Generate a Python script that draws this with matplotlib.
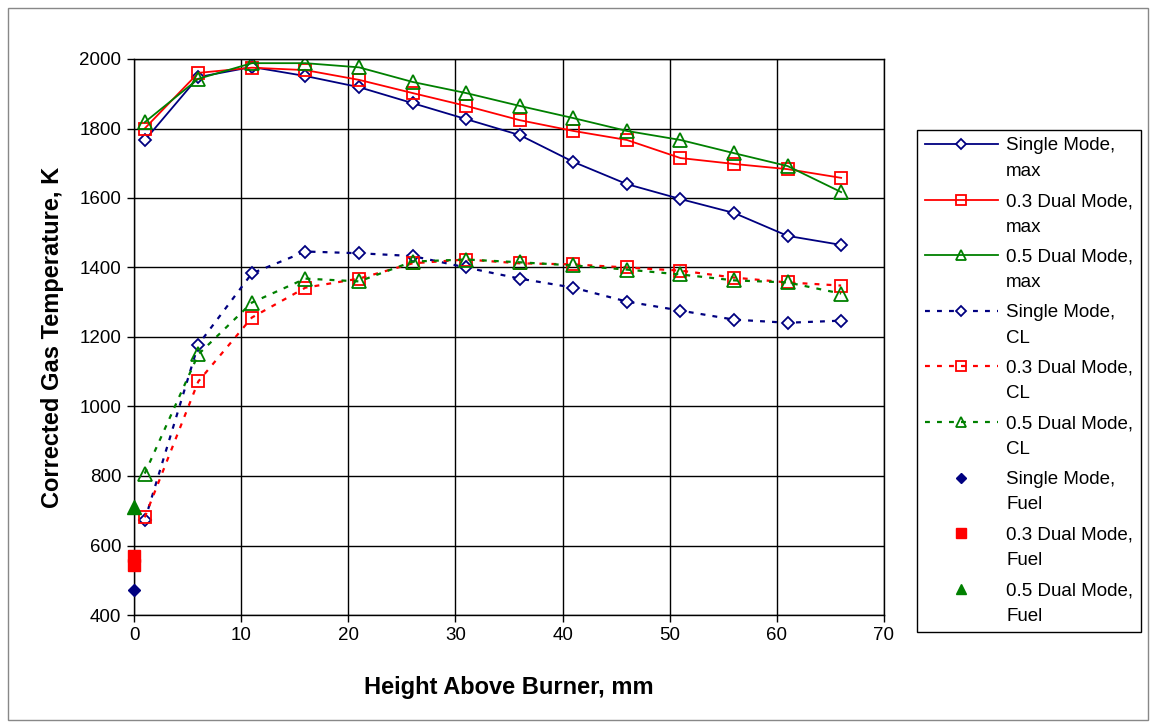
import matplotlib.pyplot as plt
from matplotlib.patches import Rectangle

plt.rcParams['font.family'] = ['Liberation Sans', 'DejaVu Sans']

# heights above burner, mm
hab = [1, 6, 11, 16, 21, 26, 31, 36, 41, 46, 51, 56, 61, 66]

# maximum temperature, K
single_max = [1766, 1948, 1977, 1951, 1919, 1873, 1827, 1781, 1704, 1640, 1597, 1557, 1491, 1465]
dual03_max = [1800, 1960, 1975, 1968, 1940, 1902, 1865, 1824, 1793, 1767, 1715, 1698, 1683, 1658]
dual05_max = [1818, 1943, 1988, 1988, 1976, 1934, 1902, 1865, 1830, 1793, 1767, 1729, 1692, 1617]

# centreline temperature, K
single_cl = [672, 1178, 1383, 1446, 1441, 1433, 1400, 1368, 1342, 1302, 1276, 1250, 1241, 1247]
dual03_cl = [681, 1072, 1256, 1342, 1368, 1412, 1423, 1412, 1409, 1400, 1391, 1371, 1357, 1348]
dual05_cl = [807, 1150, 1299, 1368, 1360, 1417, 1423, 1415, 1406, 1394, 1380, 1363, 1357, 1325]

# fuel temperature at the burner face
single_fuel_x, single_fuel = [0], [473]
dual03_fuel_x, dual03_fuel = [0, 0], [570, 543]
dual05_fuel_x, dual05_fuel = [0], [712]

navy = '#000080'
red = '#FF0000'
green = '#008000'

fig = plt.figure(figsize=(11.55, 7.26), dpi=100)
ax = fig.add_axes([134 / 1155, 1 - 615 / 726, 750 / 1155, 556 / 726])

dash = (0, (2.2, 3.2))
ax.plot(hab, single_max, color=navy, lw=1.3, marker='D', ms=6.5, mfc='white', mec=navy, mew=1.3,
        label='Single Mode,\nmax')
ax.plot(hab, dual03_max, color=red, lw=1.3, marker='s', ms=9, mfc='none', mec=red, mew=1.3,
        label='0.3 Dual Mode,\nmax')
ax.plot(hab, dual05_max, color=green, lw=1.3, marker='^', ms=9.5, mfc='none', mec=green, mew=1.3,
        label='0.5 Dual Mode,\nmax')
ax.plot(hab, single_cl, color=navy, lw=1.6, ls=dash, marker='D', ms=6.5, mfc='white', mec=navy, mew=1.3,
        label='Single Mode,\nCL')
ax.plot(hab, dual03_cl, color=red, lw=1.6, ls=dash, marker='s', ms=9, mfc='none', mec=red, mew=1.3,
        label='0.3 Dual Mode,\nCL')
ax.plot(hab, dual05_cl, color=green, lw=1.6, ls=dash, marker='^', ms=9.5, mfc='none', mec=green, mew=1.3,
        label='0.5 Dual Mode,\nCL')
ax.plot(single_fuel_x, single_fuel, ls='none', marker='D', ms=6.5, color=navy, clip_on=False, zorder=5,
        label='Single Mode,\nFuel')
ax.plot(dual03_fuel_x, dual03_fuel, ls='none', marker='s', ms=9, color=red, clip_on=False, zorder=5,
        label='0.3 Dual Mode,\nFuel')
ax.plot(dual05_fuel_x, dual05_fuel, ls='none', marker='^', ms=9.5, color=green, clip_on=False, zorder=5,
        label='0.5 Dual Mode,\nFuel')

ax.set_xlim(0, 70)
ax.set_ylim(400, 2000)
ax.set_xticks(range(0, 71, 10))
ax.set_yticks(range(400, 2001, 200))
ax.grid(True, color='black', lw=1)
ax.set_axisbelow(True)
for s in ax.spines.values():
    s.set_color('black')
    s.set_linewidth(1)
ax.tick_params(direction='out', length=5, width=1, labelsize=13.5, pad=4)

ax.set_xlabel('Height Above Burner, mm', fontsize=17, fontweight='bold', labelpad=23)
ax.set_ylabel('Corrected Gas Temperature, K', fontsize=17, fontweight='bold', labelpad=11)

leg = ax.legend(loc='upper left', bbox_to_anchor=(917 / 1155, 1 - 130 / 726),
                bbox_transform=fig.transFigure, borderaxespad=0, fontsize=13.5,
                frameon=True, fancybox=False, edgecolor='black', framealpha=1,
                handlelength=3.9, handletextpad=0.45, labelspacing=0.70,
                borderpad=0.4, markerscale=0.8)
leg.get_frame().set_linewidth(1)
for t in leg.get_texts():
    t.set_linespacing(1.65)
# put each legend symbol level with the first line of its label, as Excel does
for col in leg._legend_handle_box.get_children():
    for row in col.get_children():
        row.align = 'top'

fig.patches.append(Rectangle((8 / 1155, 6 / 726), 1140 / 1155, 712 / 726, transform=fig.transFigure,
                             fill=False, edgecolor='#888888', lw=1))

fig.savefig('out.png', dpi=100)
